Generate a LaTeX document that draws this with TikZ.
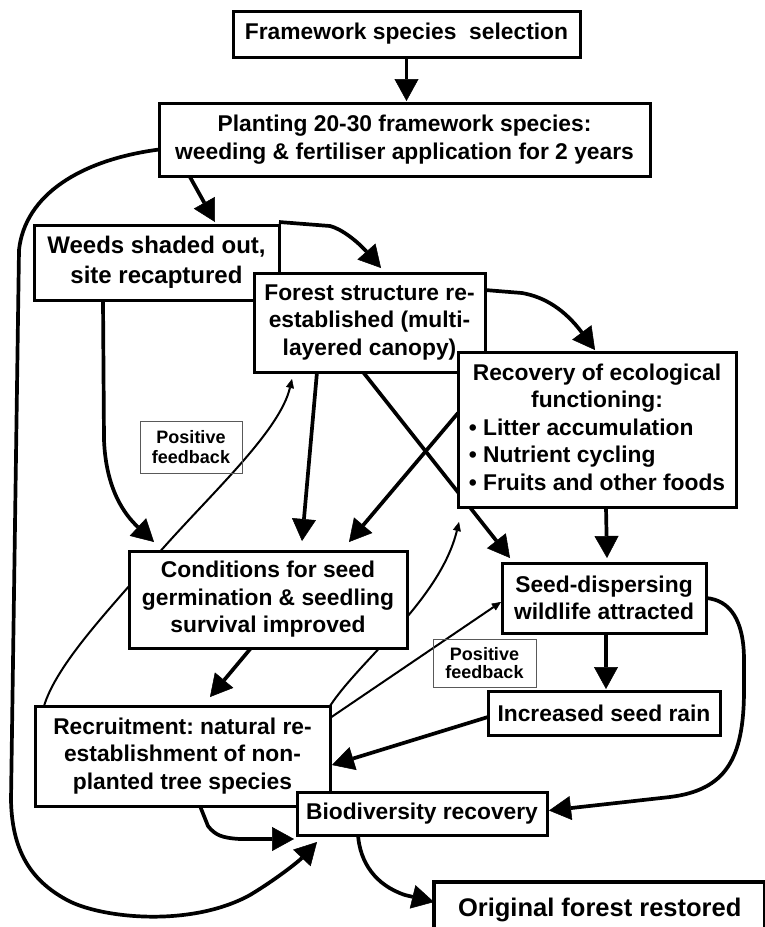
\documentclass[tikz,border=0pt]{standalone}
\usepackage{fontspec}
\setmainfont{Liberation Sans}
\usetikzlibrary{arrows.meta,calc}
\pgfdeclarelayer{bg}
\pgfsetlayers{bg,main}
\frenchspacing
\begin{document}
\begin{tikzpicture}[x=1pt,y=-1pt,
  box/.style={draw, line width=3pt, fill=white, align=center, inner sep=0pt, outer sep=0pt,
    font=\fontsize{22.8}{27.5}\selectfont\bfseries},
  arr/.style={line width=3.7pt, -{Triangle[length=22pt,width=24pt,line width=0.5pt]}},
  thinarr/.style={line width=2pt, -{Triangle[length=9pt,width=8pt,line width=0.5pt]}},
  pfbox/.style={draw=black!65, line width=1pt, align=center, inner sep=0pt, outer sep=0pt,
    font=\fontsize{18}{20}\selectfont\bfseries}]
\useasboundingbox (0,0) rectangle (764,927);

% boxes
\node[box, minimum width=347pt, minimum height=46pt] (fss) at (406.5,34) {Framework species\ \ selection};
\node[box, minimum width=491pt, minimum height=73pt] (plant) at (404.5,139.5) {Planting 20-30 framework species:\\weeding \& fertiliser application for 2 years};
\node[box, minimum width=245pt, minimum height=75pt, font=\fontsize{24}{29.5}\selectfont\bfseries] (weeds) at (156.5,262.5) {Weeds shaded out,\\site recaptured};
\node[box, minimum width=231pt, minimum height=99pt] (forest) at (369.5,322.5) {Forest structure re-\\established (multi-\\layered canopy)};
\node[box, minimum width=278pt, minimum height=155pt] (recov) at (597,429.5) {\begin{tabular}{@{}l@{}}\multicolumn{1}{@{}c@{}}{Recovery of ecological}\\\multicolumn{1}{@{}c@{}}{functioning:}\\• Litter accumulation\\• Nutrient cycling\\• Fruits and other foods\end{tabular}};
\node[box, minimum width=278pt, minimum height=97pt] (cond) at (268,599.5) {Conditions for seed\\germination \& seedling\\survival improved};
\node[box, minimum width=204pt, minimum height=70pt] (seedd) at (604,598) {Seed-dispersing\\wildlife attracted};
\node[box, minimum width=295pt, minimum height=100pt] (recr) at (182.5,756) {Recruitment: natural re-\\establishment of non-\\planted tree species};
\node[box, minimum width=232pt, minimum height=44pt] (rain) at (604,713) {Increased seed rain};
\node[box, minimum width=250pt, minimum height=43pt] (bio) at (422,813.5) {Biodiversity recovery};
\node[box, line width=4pt, anchor=north west, inner xsep=24pt, inner ysep=16.5pt, font=\fontsize{25.5}{30}\selectfont\bfseries] (orig) at (434,882) {Original forest restored};
\node[pfbox, minimum width=102pt, minimum height=52pt] (pf1) at (191,447) {Positive\\feedback};
\node[pfbox, minimum width=103pt, minimum height=48pt, font=\fontsize{18}{17.5}\selectfont\bfseries] (pf2) at (484.5,663) {Positive\\feedback};

\begin{pgfonlayer}{bg}
\fill[white] (0,0) rectangle (764,927);
% main arrows
\draw[arr, shorten >=2pt] (fss.south) -- (fss.south |- plant.north);
\draw[arr] ($(plant.south west)+(31,1)$) -- ($(weeds.north west)+(181,-3)$);
\draw[arr] ($(weeds.north east)+(0,-3)$) -- (330,226) .. controls (342,229) and (358,242) .. ($(forest.north west)+(127,-5)$);
\draw[arr] ($(forest.north east)+(0,17)$) -- (522,293) .. controls (545,297) and (565,310) .. ($(recov.north)+(-2,-2)$);
\draw[arr] ($(weeds.south west)+(69,0)$) -- (104,440) .. controls (106,490) and (125,515) .. ($(cond.north west)+(25,-9)$);
\draw[arr] ($(forest.south west)+(63,0)$) -- ($(cond.north west)+(173,-10)$);
\draw[arr] ($(forest.south west)+(109,0)$) -- ($(seedd.north west)+(8,-5)$);
\draw[arr] ($(recov.west)+(0,-16.5)$) -- ($(cond.north east)+(-58,-9)$);
\draw[arr] ($(recov.south)+(9,0)$) -- ($(seedd.north)+(3,-5)$);
\draw[arr] ($(cond.south)+(-17,0)$) -- ($(recr.north)+(27.5,-9)$);
\draw[arr] ($(seedd.south)+(2,0)$) -- ($(rain.north)+(2,-2)$);
\draw[arr] ($(rain.west)+(0,4)$) -- ($(recr.east)+(2,9)$);
\draw[arr] ($(recr.south west)+(165,0)$) -- (208,826) .. controls (215,835) and (222,838) .. (240,839) -- ($(bio.south west)+(-3,4)$);
\draw[arr] ($(plant.west)+(0,10)$) .. controls (80,160) and (25,195) .. (19,250) -- (11,800) .. controls (12,850) and (30,880) .. (67,900) .. controls (100,918) and (190,928) .. (250,895) .. controls (275,880) and (298,862) .. ($(bio.south west)+(20,7)$);
\draw[arr] (seedd.east) .. controls (730,600) and (744,620) .. (744,660) -- (744,690) .. controls (744,760) and (725,790) .. (670,797) -- ($(bio.east)+(2,-3)$);
\draw[arr] ($(bio.south west)+(61,0)$) .. controls (360,862) and (375,885) .. (405,895) -- ($(orig.north west)+(0,20)$);
% feedback arrows
\draw[thinarr] ($(recr.north west)+(9,0)$) .. controls (55,670) and (95,625) .. (130,585) -- (165,546) .. controls (215,490) and (280,430) .. ($(forest.south west)+(38,7)$);
\draw[thinarr] (recr.north east) .. controls (360,660) and (440,600) .. ($(recov.south west)+(1,15)$);
\draw[thinarr] ($(recr.north east)+(0,12)$) -- ($(seedd.west)+(-1,4)$);
\end{pgfonlayer}
\end{tikzpicture}
\end{document}
